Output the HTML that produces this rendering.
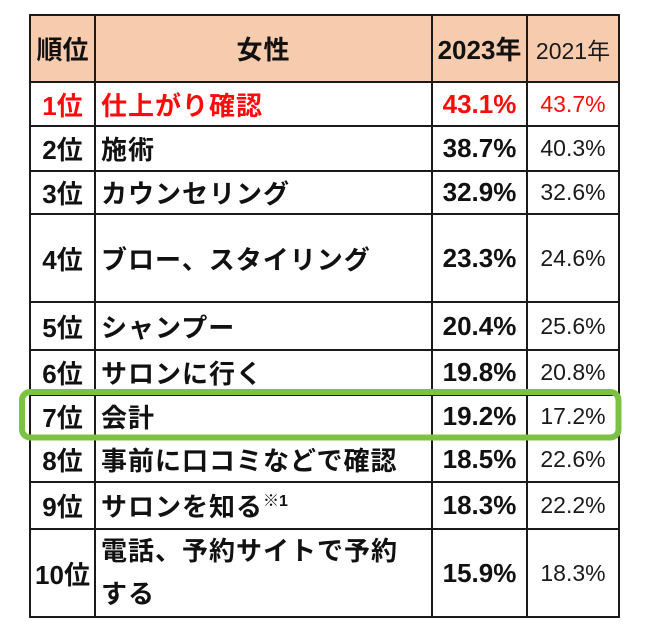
<!DOCTYPE html>
<html><head><meta charset="utf-8">
<style>
html,body{margin:0;padding:0;background:#fff;}
#wrap{position:relative;width:650px;height:633px;overflow:hidden;background:#fff;}
.c{position:absolute;display:flex;align-items:center;font-family:"Liberation Sans","Noto Sans CJK JP",sans-serif;color:#111;white-space:nowrap;}
.r{justify-content:center;font-weight:bold;font-size:26px;}
.t{justify-content:flex-start;font-weight:bold;font-size:26px;letter-spacing:1px;padding-left:6px;box-sizing:border-box;}
.v{justify-content:center;font-weight:bold;font-size:26px;}
.w{justify-content:center;font-weight:normal;font-size:23px;color:#1a1a1a;}
.red{color:#ff0a0a !important;}
.h{position:absolute;height:2px;background:#1a1a1a;left:29px;width:591px;}
.vl{position:absolute;width:2px;background:#1a1a1a;top:14px;height:604px;}
sup{font-size:16px;vertical-align:top;position:relative;top:-7px;letter-spacing:0;}
</style></head><body>
<div id="wrap">
<div style="position:absolute;left:30px;top:15px;width:589px;height:67px;background:#f7cbad;"></div>

<!-- header -->
<div class="c r" style="left:30px;top:15px;width:65px;height:67px;">順位</div>
<div class="c r" style="left:95px;top:15px;width:337px;height:67px;letter-spacing:1px;">女性</div>
<div class="c v" style="left:432px;top:15px;width:95px;height:67px;">2023年</div>
<div class="c w" style="left:527px;top:15px;width:92px;height:67px;font-size:23px;">2021年</div>

<!-- row 1 -->
<div class="c r red" style="left:30px;top:82px;width:65px;height:44px;">1位</div>
<div class="c t red" style="left:95px;top:82px;width:337px;height:44px;">仕上がり確認</div>
<div class="c v red" style="left:432px;top:82px;width:95px;height:44px;">43.1%</div>
<div class="c w red" style="left:527px;top:82px;width:92px;height:44px;">43.7%</div>

<!-- row 2 -->
<div class="c r" style="left:30px;top:126px;width:65px;height:45px;">2位</div>
<div class="c t" style="left:95px;top:126px;width:337px;height:45px;">施術</div>
<div class="c v" style="left:432px;top:126px;width:95px;height:45px;">38.7%</div>
<div class="c w" style="left:527px;top:126px;width:92px;height:45px;">40.3%</div>

<!-- row 3 -->
<div class="c r" style="left:30px;top:171px;width:65px;height:43px;">3位</div>
<div class="c t" style="left:95px;top:171px;width:337px;height:43px;">カウンセリング</div>
<div class="c v" style="left:432px;top:171px;width:95px;height:43px;">32.9%</div>
<div class="c w" style="left:527px;top:171px;width:92px;height:43px;">32.6%</div>

<!-- row 4 -->
<div class="c r" style="left:30px;top:214px;width:65px;height:88px;">4位</div>
<div class="c t" style="left:95px;top:214px;width:337px;height:88px;">ブロー、スタイリング</div>
<div class="c v" style="left:432px;top:214px;width:95px;height:88px;">23.3%</div>
<div class="c w" style="left:527px;top:214px;width:92px;height:88px;">24.6%</div>

<!-- row 5 -->
<div class="c r" style="left:30px;top:302px;width:65px;height:48px;">5位</div>
<div class="c t" style="left:95px;top:302px;width:337px;height:48px;">シャンプー</div>
<div class="c v" style="left:432px;top:302px;width:95px;height:48px;">20.4%</div>
<div class="c w" style="left:527px;top:302px;width:92px;height:48px;">25.6%</div>

<!-- row 6 -->
<div class="c r" style="left:30px;top:350px;width:65px;height:45px;">6位</div>
<div class="c t" style="left:95px;top:350px;width:337px;height:45px;">サロンに行く</div>
<div class="c v" style="left:432px;top:350px;width:95px;height:45px;">19.8%</div>
<div class="c w" style="left:527px;top:350px;width:92px;height:45px;">20.8%</div>

<!-- row 7 -->
<div class="c r" style="left:30px;top:395px;width:65px;height:42px;">7位</div>
<div class="c t" style="left:95px;top:395px;width:337px;height:42px;">会計</div>
<div class="c v" style="left:432px;top:395px;width:95px;height:42px;">19.2%</div>
<div class="c w" style="left:527px;top:395px;width:92px;height:42px;">17.2%</div>

<!-- row 8 -->
<div class="c r" style="left:30px;top:437px;width:65px;height:45px;">8位</div>
<div class="c t" style="left:95px;top:437px;width:337px;height:45px;">事前に口コミなどで確認</div>
<div class="c v" style="left:432px;top:437px;width:95px;height:45px;">18.5%</div>
<div class="c w" style="left:527px;top:437px;width:92px;height:45px;">22.6%</div>

<!-- row 9 -->
<div class="c r" style="left:30px;top:482px;width:65px;height:47px;">9位</div>
<div class="c t" style="left:95px;top:482px;width:337px;height:47px;">サロンを知る<sup>※1</sup></div>
<div class="c v" style="left:432px;top:482px;width:95px;height:47px;">18.3%</div>
<div class="c w" style="left:527px;top:482px;width:92px;height:47px;">22.2%</div>

<!-- row 10 -->
<div class="c r" style="left:30px;top:529px;width:65px;height:88px;">10位</div>
<div class="c t" style="left:95px;top:529px;width:337px;height:88px;white-space:normal;line-height:43px;"><div>電話、予約サイトで予約<br>する</div></div>
<div class="c v" style="left:432px;top:529px;width:95px;height:88px;">15.9%</div>
<div class="c w" style="left:527px;top:529px;width:92px;height:88px;">18.3%</div>

<!-- horizontal lines -->
<div class="h" style="top:14px;"></div>
<div class="h" style="top:81px;"></div>
<div class="h" style="top:125px;"></div>
<div class="h" style="top:170px;"></div>
<div class="h" style="top:213px;"></div>
<div class="h" style="top:301px;"></div>
<div class="h" style="top:349px;"></div>
<div class="h" style="top:394px;"></div>
<div class="h" style="top:436px;"></div>
<div class="h" style="top:481px;"></div>
<div class="h" style="top:528px;"></div>
<div class="h" style="top:616px;"></div>

<!-- vertical lines -->
<div class="vl" style="left:29px;"></div>
<div class="vl" style="left:94px;"></div>
<div class="vl" style="left:431px;"></div>
<div class="vl" style="left:526px;"></div>
<div class="vl" style="left:618px;"></div>

<!-- green highlight -->
<svg style="position:absolute;left:0;top:0;" width="650" height="633">
<rect x="22" y="392" width="596.5" height="45.5" rx="8" ry="8" fill="none" stroke="#7cc242" stroke-width="6"/>
</svg>
</div>
</body></html>
